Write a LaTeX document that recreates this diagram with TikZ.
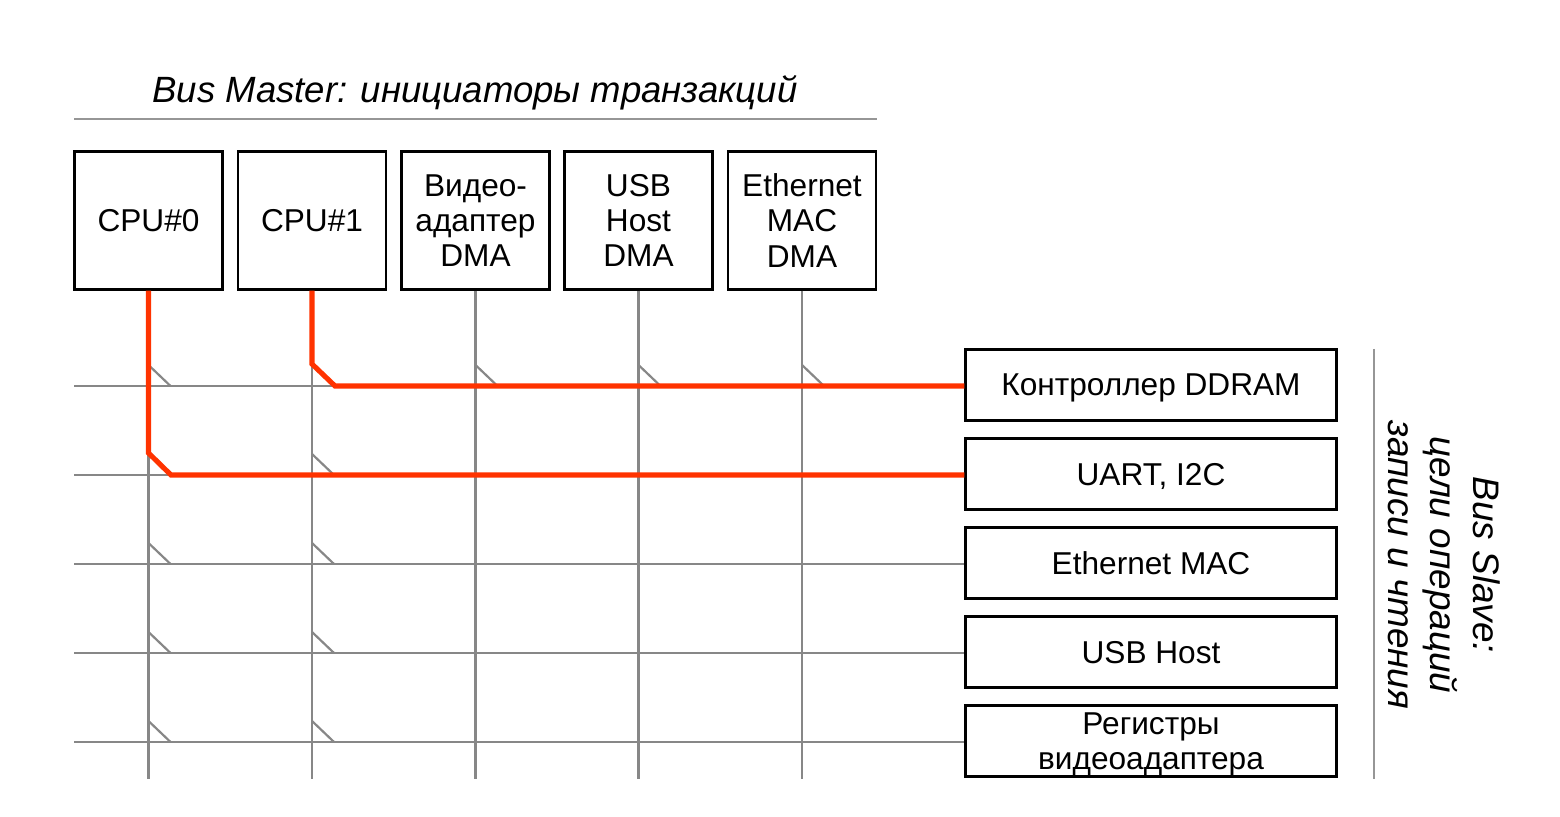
\documentclass[tikz,border=0pt]{standalone}
\usepackage{fontspec}
\setmainfont{Liberation Sans}
\definecolor{busgray}{RGB}{135,135,135}
\definecolor{linegray}{RGB}{150,150,150}
\definecolor{busred}{RGB}{255,51,0}
\begin{document}
\begin{tikzpicture}[x=0.02cm,y=-0.02cm,
  master/.style={draw=black,line width=1.2pt,minimum width=2.96cm,minimum height=2.76cm,inner sep=0pt,align=center,font=\fontsize{18}{20.1}\selectfont},
  slave/.style={draw=black,line width=1.2pt,minimum width=7.42cm,minimum height=1.42cm,inner sep=0pt,text depth=0pt,align=center,font=\fontsize{18}{20.1}\selectfont},
  bus/.style={draw=busgray,line width=1.25pt},
  tick/.style={draw=busgray,line width=1.25pt},
  redpath/.style={draw=busred,line width=2.9pt,line join=miter},
  heading/.style={font=\fontsize{20.8}{24}\itshape\selectfont}]
\useasboundingbox (0,0) rectangle (1560,817);
% title
\node[heading] (title) at (475,93) {Bus Master: инициаторы транзакций};
\coordinate (tl) at (74,119);
\coordinate (tr) at (877,119);
\draw[draw=linegray,line width=1pt] (tl) -- (tr);
% master boxes
\node[master] (m0) at (148.5,220.5) {CPU\#0};
\node[master] (m1) at (312,220.5) {CPU\#1};
\node[master] (m2) at (475.5,220.5) {Видео-\\адаптер\\DMA};
\node[master] (m3) at (638.5,220.5) {USB\\Host\\DMA};
\node[master] (m4) at (802,220.5) {Ethernet\\MAC\\DMA};
% slave boxes
\node[slave] (s1) at (1151,385) {Контроллер DDRAM};
\node[slave] (s2) at (1151,474) {UART, I2C};
\node[slave] (s3) at (1151,563) {Ethernet MAC};
\node[slave] (s4) at (1151,652) {USB Host};
\node[slave] (s5) at (1151,741) {Регистры\\видеоадаптера};
% bus end coordinates
\foreach \i/\x in {0/148.5,1/312,2/475.5,3/638.5,4/802}{\coordinate (v\i) at (\x,779);}
\foreach \j/\y in {1/386,2/475,3/564,4/653,5/742}{\coordinate (h\j) at (74,\y);}
% vertical buses
\foreach \i in {0,...,4}{\draw[bus] (m\i.south) -- (v\i);}
% horizontal buses
\foreach \j in {1,...,5}{\draw[bus] (h\j) -- (s\j.west |- h\j);}
% switch ticks
\foreach \x/\y in {148.5/386,475.5/386,638.5/386,802/386,
                   312/475,
                   148.5/564,312/564,148.5/653,312/653,148.5/742,312/742}{
  \draw[tick] (\x,\y-21) -- (\x+22,\y);}
% red paths
\coordinate (r0a) at (148.5,453);
\coordinate (r0b) at (171,475);
\coordinate (r1a) at (312,364);
\coordinate (r1b) at (335,386);
\draw[redpath] (m0.south) -- (r0a) -- (r0b) -- (s2.west |- r0b);
\draw[redpath] (m1.south) -- (r1a) -- (r1b) -- (s1.west |- r1b);
% right side
\coordinate (bt) at (1374,349);
\coordinate (bb) at (1374,779);
\draw[draw=linegray,line width=1pt] (bt) -- (bb);
\node[rotate=-90,align=center,font=\fontsize{21}{24.2}\itshape\selectfont] (slavetitle) at (1444,565) {Bus Slave:\\цели операций\\записи и чтения};
\end{tikzpicture}
\end{document}
